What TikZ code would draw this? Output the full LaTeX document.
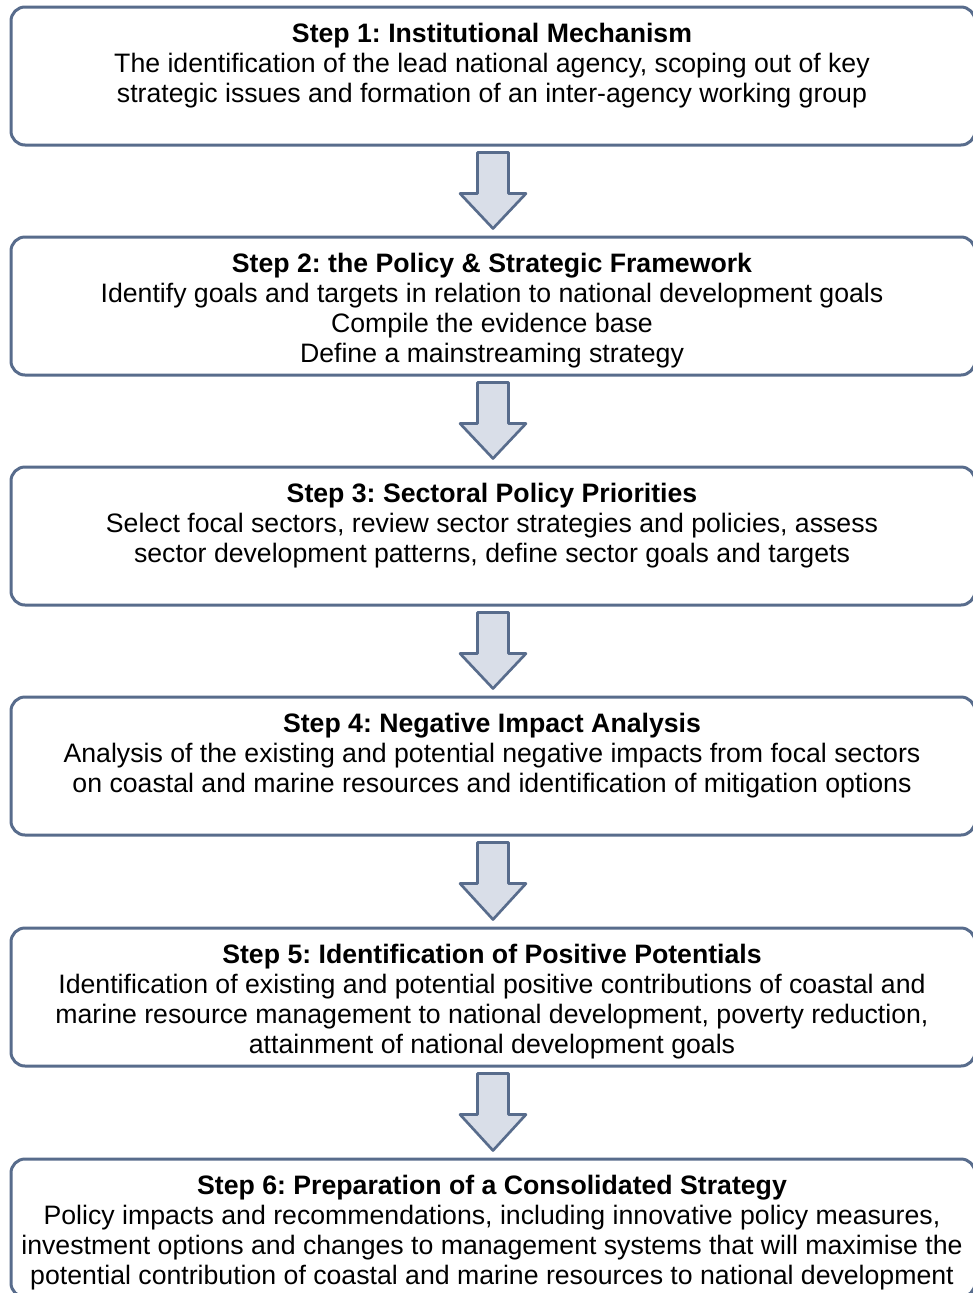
\documentclass[tikz,border=0pt]{standalone}
\usepackage{fontspec}
\setmainfont{Liberation Sans}
\frenchspacing
\usetikzlibrary{calc,positioning}
\definecolor{frame}{HTML}{586C8C}
\definecolor{arrowfill}{HTML}{D9DEE8}

\begin{document}
\begin{tikzpicture}[x=.75pt,y=-.75pt,
  stepbox/.style={draw=frame,line width=2.25pt,rounded corners=10.5pt,minimum width=723pt,minimum height=103.5pt,inner sep=0},
  steptext/.style={align=center,font=\fontsize{20}{22.5}\selectfont,anchor=north,inner sep=0},
  downarrow/.style={draw=frame,line width=2pt,fill=arrowfill,line join=round}]
\useasboundingbox (0,0) rectangle (973,1293);
\foreach \i/\y in {1/76,2/306,3/536,4/766,5/997,6/1228}{\node[stepbox] (s\i) at (493,\y){};}
% step texts
\node[steptext] (t1) at ($(s1.north)+(-1,17)$) {\textbf{Step 1: Institutional Mechanism}\\The identification of the lead national agency, scoping out of key\\strategic issues and formation of an inter-agency working group};
\node[steptext] (t2) at ($(s2.north)+(-1,17)$) {\textbf{Step 2: the Policy \& Strategic Framework}\\Identify goals and targets in relation to national development goals\\Compile the evidence base\\Define a mainstreaming strategy};
\node[steptext] (t3) at ($(s3.north)+(-1,17)$) {\textbf{Step 3: Sectoral Policy Priorities}\\Select focal sectors, review sector strategies and policies, assess\\sector development patterns, define sector goals and targets};
\node[steptext] (t4) at ($(s4.north)+(-1,17)$) {\textbf{Step 4: Negative Impact Analysis}\\Analysis of the existing and potential negative impacts from focal sectors\\on coastal and marine resources and identification of mitigation options};
\node[steptext] (t5) at ($(s5.north)+(-1,17)$) {\textbf{Step 5: Identification of Positive Potentials}\\Identification of existing and potential positive contributions of coastal and\\marine resource management to national development, poverty reduction,\\attainment of national development goals};
\node[steptext] (t6) at ($(s6.north)+(-1,17)$) {\textbf{Step 6: Preparation of a Consolidated Strategy}\\Policy impacts and recommendations, including innovative policy measures,\\investment options and changes to management systems that will maximise the\\potential contribution of coastal and marine resources to national development};
% block arrows between steps
\foreach \i/\j in {1/2,2/3,3/4,4/5,5/6}{
\draw[downarrow] ($(s\i.south)+(-15.5,6)$) -- ($(s\i.south)+(15.5,6)$) -- ($(s\i.south)+(15.5,47)$) -- ($(s\i.south)+(33,47)$) -- ($(s\j.north)+(0,-7)$) -- ($(s\i.south)+(-33,47)$) -- ($(s\i.south)+(-15.5,47)$) -- cycle;}
\end{tikzpicture}
\end{document}
